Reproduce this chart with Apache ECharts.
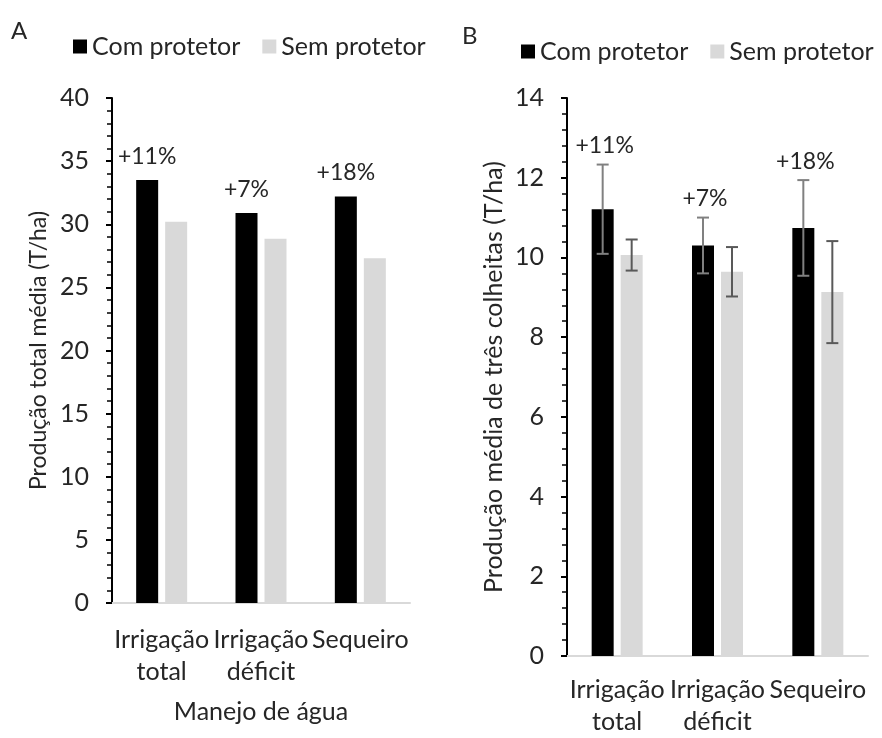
<!DOCTYPE html>
<html>
<head>
<meta charset="utf-8">
<script src="https://cdn.jsdelivr.net/npm/echarts@6/dist/echarts.min.js"></script>
<style>
  html, body { margin: 0; padding: 0; background: #fff; }
  #chart { width: 882px; height: 738px; }
</style>
</head>
<body>
<div id="chart"></div>
<script>
// Water management regimes
const categories = ['Irrigação\ntotal', 'Irrigação\ndéficit', 'Sequeiro'];
const seriesNames = ['Com protetor', 'Sem protetor'];

// Panel A: total mean yield (T/ha)
const totalCom = [33.5, 30.9, 32.2];
const totalSem = [30.2, 28.85, 27.3];

// Panel B: mean yield of three harvests (T/ha) with standard deviation
const harvestCom = [11.21, 10.30, 10.74];
const harvestSem = [10.06, 9.64, 9.13];
const harvestComErr = [1.12, 0.70, 1.20];
const harvestSemErr = [0.39, 0.62, 1.28];

// Relative gain of the protector over no protector
const gainLabels = ['+11%', '+7%', '+18%'];

// Y axis tick settings
const yTicksA = { min: 0, max: 40, interval: 5 };
const yTicksB = { min: 0, max: 14, interval: 2 };

const FONT = 'Lato, "Open Sans", sans-serif';
const TEXT = '#262626';
const FS = 25;
const BAR_W = 22;
const BAR_GAP = 7;
const OFFSET = (BAR_W + BAR_GAP) / 2;

const chart = echarts.init(document.getElementById('chart'));

function errorSeries(values, errs, offset, color, labels) {
  const data = values.map((v, i) => [i, v, errs[i]]);
  return {
    type: 'custom',
    xAxisIndex: 1,
    yAxisIndex: 1,
    z: 5,
    silent: true,
    data: data,
    renderItem: function (params, api) {
      const i = api.value(0);
      const v = api.value(1);
      const e = api.value(2);
      const hi = api.coord([i, v + e]);
      const lo = api.coord([i, v - e]);
      const x = hi[0] + offset;
      const cap = 6;
      const style = { stroke: color, lineWidth: 2 };
      const children = [
        { type: 'line', shape: { x1: x, y1: hi[1], x2: x, y2: lo[1] }, style: style },
        { type: 'line', shape: { x1: x - cap, y1: hi[1], x2: x + cap, y2: hi[1] }, style: style },
        { type: 'line', shape: { x1: x - cap, y1: lo[1], x2: x + cap, y2: lo[1] }, style: style }
      ];
      if (labels) {
        children.push({
          type: 'text',
          style: {
            text: labels[params.dataIndex],
            x: x + 2,
            y: hi[1] - 7,
            textAlign: 'center',
            textVerticalAlign: 'bottom',
            font: '23px ' + FONT,
            fill: TEXT
          }
        });
      }
      return { type: 'group', children: children };
    }
  };
}

function yAxis(idx, ticks, name, gap, nameSize) {
  return {
    type: 'value',
    gridIndex: idx,
    min: ticks.min,
    max: ticks.max,
    interval: ticks.interval,
    name: name,
    nameLocation: 'middle',
    nameGap: gap,
    nameTextStyle: { fontFamily: FONT, fontSize: nameSize, color: TEXT },
    axisLine: { show: true, lineStyle: { color: '#000', width: 2 } },
    axisTick: { show: true, length: 6, lineStyle: { color: '#000', width: 2 } },
    minorTick: { show: true, splitNumber: 5, length: 5, lineStyle: { color: '#000', width: 1.5 } },
    splitLine: { show: false },
    axisLabel: { fontFamily: FONT, fontSize: FS, color: TEXT, margin: 23 }
  };
}

function xAxis(idx, name, margin) {
  return {
    type: 'category',
    gridIndex: idx,
    data: categories,
    name: name,
    nameLocation: 'middle',
    nameGap: 96,
    nameTextStyle: { fontFamily: FONT, fontSize: FS, color: TEXT },
    axisLine: { show: true, lineStyle: { color: '#d9d9d9', width: 2 } },
    axisTick: { show: false },
    axisLabel: { fontFamily: FONT, fontSize: FS, color: TEXT, margin: margin, lineHeight: 32, interval: 0 }
  };
}

function legend(left, top) {
  return {
    left: left,
    top: top,
    icon: 'rect',
    itemWidth: 14,
    itemHeight: 14,
    itemGap: 22,
    selectedMode: false,
    data: seriesNames,
    textStyle: { fontFamily: FONT, fontSize: FS, color: TEXT }
  };
}

chart.setOption({
  animation: false,
  backgroundColor: '#fff',
  graphic: [
    { type: 'text', left: 11, top: 19, style: { text: 'A', font: '24px ' + FONT, fill: TEXT } },
    { type: 'text', left: 462, top: 24, style: { text: 'B', font: '24px ' + FONT, fill: TEXT } }
  ],
  legend: [legend(68, 29), legend(516, 34)],
  grid: [
    { left: 112, top: 98, width: 298, height: 505 },
    { left: 567, top: 98, width: 301, height: 563 }
  ],
  xAxis: [xAxis(0, 'Manejo de água', 21), xAxis(1, '', 18)],
  yAxis: [
    yAxis(0, yTicksA, 'Produção total média (T/ha)', 62, 23),
    yAxis(1, yTicksB, 'Produção média de três colheitas (T/ha)', 61, 25)
  ],
  series: [
    {
      name: seriesNames[0], type: 'bar', xAxisIndex: 0, yAxisIndex: 0,
      data: totalCom, barWidth: BAR_W, barGap: (BAR_GAP / BAR_W * 100) + '%',
      itemStyle: { color: '#000' },
      label: {
        show: true, position: 'top', distance: 12,
        formatter: p => gainLabels[p.dataIndex],
        fontFamily: FONT, fontSize: 23, color: TEXT
      }
    },
    {
      name: seriesNames[1], type: 'bar', xAxisIndex: 0, yAxisIndex: 0,
      data: totalSem, barWidth: BAR_W,
      itemStyle: { color: '#d9d9d9' }
    },
    {
      name: seriesNames[0], type: 'bar', xAxisIndex: 1, yAxisIndex: 1,
      data: harvestCom, barWidth: BAR_W, barGap: (BAR_GAP / BAR_W * 100) + '%',
      itemStyle: { color: '#000' }
    },
    {
      name: seriesNames[1], type: 'bar', xAxisIndex: 1, yAxisIndex: 1,
      data: harvestSem, barWidth: BAR_W,
      itemStyle: { color: '#d9d9d9' }
    },
    errorSeries(harvestCom, harvestComErr, -OFFSET, '#808080', gainLabels),
    errorSeries(harvestSem, harvestSemErr, OFFSET, '#595959', null)
  ]
});
</script>
</body>
</html>
